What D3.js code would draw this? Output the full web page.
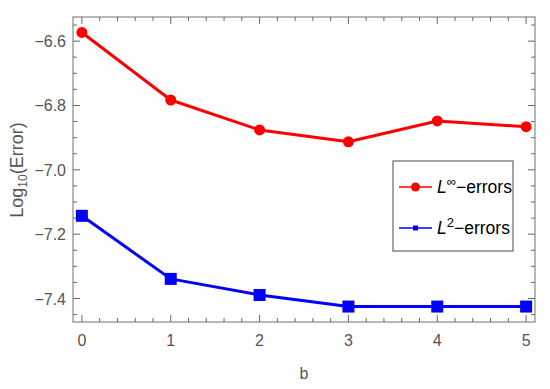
<!DOCTYPE html>
<html>
<head>
<meta charset="utf-8">
<script src="https://cdn.jsdelivr.net/npm/d3@7"></script>
<style>
body { margin: 0; background: #fff; }
text { font-family: "Liberation Sans", Arial, sans-serif; }
</style>
</head>
<body>
<div id="chart"></div>
<script>
// data
var bValues = [0, 1, 2, 3, 4, 5];
var linfErrors = [-6.573, -6.783, -6.876, -6.913, -6.848, -6.866];
var l2Errors = [-7.143, -7.339, -7.389, -7.425, -7.425, -7.425];
var xTicks = [0, 1, 2, 3, 4, 5];
var yTicks = [-7.4, -7.2, -7.0, -6.8, -6.6];

var W = 550, H = 389;
var frame = {left: 73, right: 535, top: 17, bottom: 322};

var svg = d3.select("#chart").append("svg")
    .attr("width", W)
    .attr("height", H);

var x = d3.scaleLinear().domain([-0.1, 5.1]).range([frame.left, frame.right]);
var y = d3.scaleLinear().domain([-7.473, -6.525]).range([frame.bottom, frame.top]);

var tickColor = "#666";
var labelColor = "#555";

// frame
svg.append("rect")
    .attr("x", frame.left)
    .attr("y", frame.top)
    .attr("width", frame.right - frame.left)
    .attr("height", frame.bottom - frame.top)
    .attr("fill", "none")
    .attr("stroke", "#888")
    .attr("stroke-width", 1.2);

// minor + major ticks, pointing inward on all four sides
var xMinor = d3.range(0, 26).map(function(i) { return i * 0.2; }).filter(function(v) {
    return Math.abs(v - Math.round(v)) > 1e-6;
});
var yMinor = d3.range(-7.45, -6.52, 0.05).filter(function(v) {
    return Math.abs(v * 5 - Math.round(v * 5)) > 1e-6;
});

function drawXTicks(vals, len) {
    vals.forEach(function(v) {
        svg.append("line")
            .attr("x1", x(v)).attr("x2", x(v))
            .attr("y1", frame.bottom).attr("y2", frame.bottom - len)
            .attr("stroke", tickColor).attr("stroke-width", 1);
        svg.append("line")
            .attr("x1", x(v)).attr("x2", x(v))
            .attr("y1", frame.top).attr("y2", frame.top + len)
            .attr("stroke", tickColor).attr("stroke-width", 1);
    });
}
function drawYTicks(vals, len) {
    vals.forEach(function(v) {
        svg.append("line")
            .attr("x1", frame.left).attr("x2", frame.left + len)
            .attr("y1", y(v)).attr("y2", y(v))
            .attr("stroke", tickColor).attr("stroke-width", 1);
        svg.append("line")
            .attr("x1", frame.right).attr("x2", frame.right - len)
            .attr("y1", y(v)).attr("y2", y(v))
            .attr("stroke", tickColor).attr("stroke-width", 1);
    });
}
drawXTicks(xTicks, 7);
drawXTicks(xMinor, 4);
drawYTicks(yTicks, 7);
drawYTicks(yMinor, 4);

// tick labels
svg.selectAll(".xlab")
    .data(xTicks)
.enter().append("text")
    .attr("class", "xlab")
    .attr("x", function(d) { return x(d); })
    .attr("y", 346)
    .attr("text-anchor", "middle")
    .attr("font-size", 16)
    .attr("fill", labelColor)
    .text(function(d) { return d; });

svg.selectAll(".ylab")
    .data(yTicks)
.enter().append("text")
    .attr("class", "ylab")
    .attr("x", 66)
    .attr("y", function(d) { return y(d) + 6; })
    .attr("text-anchor", "end")
    .attr("font-size", 16)
    .attr("fill", labelColor)
    .text(function(d) { return "\u2212" + Math.abs(d).toFixed(1); });

// axis titles
svg.append("text")
    .attr("x", 304)
    .attr("y", 379)
    .attr("text-anchor", "middle")
    .attr("font-size", 16)
    .attr("fill", labelColor)
    .text("b");

var yTitle = svg.append("text")
    .attr("transform", "translate(23,170) rotate(-90)")
    .attr("text-anchor", "middle")
    .attr("font-size", 18)
    .attr("fill", labelColor);
yTitle.append("tspan").text("Log");
yTitle.append("tspan").attr("font-size", 12).attr("dy", 4).text("10");
yTitle.append("tspan").attr("dy", -4).text("(Error)");

// series
var line = d3.line()
    .x(function(d, i) { return x(bValues[i]); })
    .y(function(d) { return y(d); });

svg.append("path")
    .attr("d", line(linfErrors))
    .attr("fill", "none")
    .attr("stroke", "#ff0000")
    .attr("stroke-width", 3)
    .attr("stroke-linejoin", "round");

svg.selectAll(".redpt")
    .data(linfErrors)
.enter().append("circle")
    .attr("class", "redpt")
    .attr("cx", function(d, i) { return x(bValues[i]); })
    .attr("cy", function(d) { return y(d); })
    .attr("r", 5.5)
    .attr("fill", "#ff0000");

svg.append("path")
    .attr("d", line(l2Errors))
    .attr("fill", "none")
    .attr("stroke", "#0000ff")
    .attr("stroke-width", 3)
    .attr("stroke-linejoin", "round");

svg.selectAll(".bluept")
    .data(l2Errors)
.enter().append("rect")
    .attr("class", "bluept")
    .attr("x", function(d, i) { return x(bValues[i]) - 6; })
    .attr("y", function(d) { return y(d) - 6; })
    .attr("width", 12)
    .attr("height", 12)
    .attr("fill", "#0000ff");

// legend
var legend = svg.append("g");
legend.append("rect")
    .attr("x", 393).attr("y", 161)
    .attr("width", 120).attr("height", 90)
    .attr("fill", "#fff")
    .attr("stroke", "#666")
    .attr("stroke-width", 1.2);

var legendItems = [
    {color: "#ff0000", sup: "\u221e", y: 187, shape: "circle"},
    {color: "#0000ff", sup: "2", y: 228, shape: "square"}
];
legendItems.forEach(function(d) {
    legend.append("line")
        .attr("x1", 399).attr("x2", 432)
        .attr("y1", d.y).attr("y2", d.y)
        .attr("stroke", d.color)
        .attr("stroke-width", 1.5);
    if (d.shape == "circle") {
        legend.append("circle")
            .attr("cx", 415.5).attr("cy", d.y).attr("r", 4.5)
            .attr("fill", d.color);
    } else {
        legend.append("rect")
            .attr("x", 413).attr("y", d.y - 2.5)
            .attr("width", 5).attr("height", 5)
            .attr("fill", d.color);
    }
    var t = legend.append("text")
        .attr("x", 437)
        .attr("y", d.y + 6)
        .attr("font-size", 17.5)
        .attr("fill", "#000");
    t.append("tspan").attr("font-style", "italic").text("L");
    t.append("tspan").attr("font-size", 13).attr("dy", -7).text(d.sup);
    t.append("tspan").attr("dy", 7).text("\u2212errors");
});
</script>
</body>
</html>
